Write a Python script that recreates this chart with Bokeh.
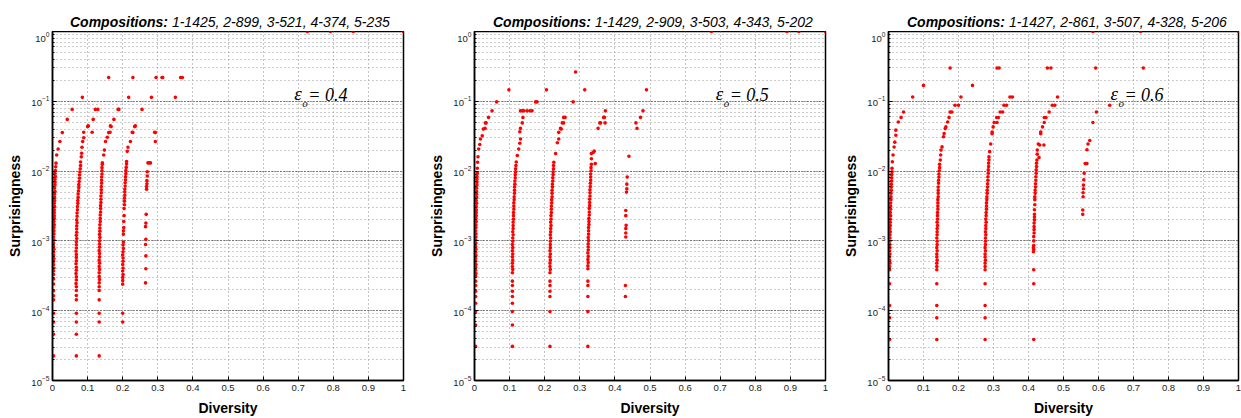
from bokeh.plotting import figure
from bokeh.layouts import row, column
from bokeh.models import Label, FixedTicker, LogTicker, Range1d, ColumnDataSource, Div
from bokeh.embed import file_html
from bokeh.resources import INLINE

# ---------------- data ----------------
X_TICKS = [0, 0.1, 0.2, 0.3, 0.4, 0.5, 0.6, 0.7, 0.8, 0.9, 1.0]
X_TICK_LABELS = ["0", "0.1", "0.2", "0.3", "0.4", "0.5", "0.6", "0.7", "0.8", "0.9", "1"]

TITLES = ["1-1425, 2-899, 3-521, 4-374, 5-235",
          "1-1429, 2-909, 3-503, 4-343, 5-202",
          "1-1427, 2-861, 3-507, 4-328, 5-206"]
EPS = ["0.4", "0.5", "0.6"]

# panel 1 (eps = 0.4): (diversity, surprisingness)
P1_C0 = [(0.003,2.25e-5),(0.003,4.6e-5),(0.003,6.9e-5),(0.003,9.2e-5),(0.003,1.43e-4),(0.003,1.64e-4),(0.003,1.93e-4),(0.003,2.41e-4),(0.003,2.84e-4),
         (0.003,3.3e-4),(0.003,3.7e-4),(0.004,4.1e-4),(0.003,4.6e-4),(0.003,5.1e-4),(0.004,5.6e-4),(0.003,6.2e-4),(0.003,6.9e-4),(0.004,7.6e-4),(0.003,8.4e-4),
         (0.003,9.3e-4),(0.004,1.03e-3),(0.003,1.14e-3),(0.004,1.26e-3),(0.004,1.4e-3),(0.004,1.55e-3),(0.005,1.7e-3),(0.004,1.9e-3),(0.005,2.1e-3),(0.005,2.3e-3),
         (0.005,2.55e-3),(0.005,2.8e-3),(0.006,3.1e-3),(0.005,3.45e-3),(0.006,3.8e-3),(0.006,4.2e-3),(0.006,4.65e-3),(0.007,5.1e-3),(0.006,5.7e-3),(0.007,6.3e-3),
         (0.007,6.9e-3),(0.007,7.6e-3),(0.008,8.4e-3),(0.007,9.3e-3),(0.008,1.02e-2),
         (0.009,1.15e-2),(0.010,1.3e-2),(0.012,1.7e-2),(0.016,2.07e-2),(0.021,2.65e-2),(0.028,3.56e-2),(0.042,5.5e-2),(0.056,7.66e-2),(0.085,1.14e-1)]
P1_C1 = [(0.068,2.25e-5),(0.068,4.6e-5),(0.068,6.9e-5),(0.068,9.2e-5),(0.068,1.43e-4),(0.068,1.65e-4),
         (0.068,1.95e-4),(0.068,2.2e-4),(0.067,2.45e-4),(0.068,2.75e-4),(0.068,3.05e-4),(0.067,3.4e-4),(0.068,3.8e-4),(0.068,4.2e-4),(0.067,4.7e-4),(0.068,5.2e-4),
         (0.068,5.8e-4),(0.068,6.4e-4),(0.067,7.1e-4),(0.068,7.9e-4),(0.068,8.8e-4),(0.068,9.7e-4),(0.069,1.08e-3),(0.068,1.2e-3),(0.069,1.33e-3),(0.069,1.48e-3),
         (0.069,1.64e-3),(0.070,1.82e-3),(0.069,2.0e-3),(0.070,2.25e-3),(0.070,2.5e-3),(0.071,2.8e-3),(0.071,3.1e-3),(0.072,3.45e-3),(0.072,3.8e-3),(0.073,4.2e-3),
         (0.073,4.7e-3),(0.074,5.2e-3),(0.075,5.8e-3),(0.075,6.4e-3),(0.076,7.1e-3),(0.077,7.9e-3),(0.077,8.8e-3),(0.078,9.7e-3),(0.079,1.08e-2),(0.080,1.2e-2),
         (0.080,1.35e-2),(0.082,1.6e-2),(0.083,1.8e-2),(0.084,2.2e-2),(0.086,2.65e-2),(0.089,3.0e-2),(0.089,3.6e-2),(0.100,4.34e-2),(0.102,4.44e-2),(0.113,3.6e-2),
         (0.116,5.5e-2),(0.122,7.66e-2),(0.129,7.66e-2),(0.160,2.19e-1)]
P1_C2 = [(0.133,2.25e-5),(0.133,6.9e-5),(0.133,9.2e-5),(0.133,1.43e-4),
         (0.133,1.95e-4),(0.133,2.2e-4),(0.133,2.5e-4),(0.134,2.8e-4),(0.133,3.1e-4),(0.133,3.5e-4),(0.134,3.9e-4),(0.133,4.3e-4),(0.134,4.8e-4),(0.133,5.3e-4),
         (0.134,5.9e-4),(0.134,6.6e-4),(0.133,7.3e-4),(0.134,8.1e-4),(0.134,9.0e-4),(0.134,1.0e-3),(0.135,1.12e-3),(0.134,1.24e-3),(0.135,1.38e-3),(0.135,1.53e-3),
         (0.135,1.7e-3),(0.136,1.9e-3),(0.136,2.1e-3),(0.136,2.35e-3),(0.137,2.6e-3),(0.137,2.9e-3),(0.137,3.2e-3),(0.138,3.55e-3),(0.138,3.95e-3),(0.138,4.4e-3),
         (0.139,4.9e-3),(0.139,5.4e-3),(0.139,6.0e-3),(0.140,6.7e-3),(0.140,7.4e-3),(0.140,8.2e-3),(0.141,9.1e-3),(0.141,1.01e-2),(0.141,1.12e-2),(0.142,1.25e-2),
         (0.142,1.32e-2),(0.146,1.7e-2),(0.148,2.0e-2),(0.151,2.65e-2),(0.156,3.05e-2),(0.160,3.56e-2),(0.164,3.6e-2),(0.165,4.44e-2),(0.167,4.34e-2),(0.175,5.5e-2),
         (0.187,7.66e-2),(0.189,7.66e-2),(0.217,1.14e-1),(0.229,2.19e-1)]
P1_C3 = [(0.200,6.9e-5),(0.200,9.2e-5),
         (0.200,2.4e-4),(0.200,2.7e-4),(0.200,3.0e-4),(0.201,3.3e-4),(0.200,3.7e-4),(0.201,4.1e-4),(0.200,4.6e-4),(0.201,5.1e-4),(0.201,5.7e-4),(0.200,6.3e-4),
         (0.201,7.0e-4),(0.202,7.8e-4),(0.201,8.7e-4),(0.202,9.6e-4),(0.202,1.25e-3),(0.202,1.4e-3),(0.203,1.55e-3),(0.203,1.9e-3),(0.204,2.3e-3),(0.204,2.9e-3),
         (0.205,3.3e-3),(0.205,3.7e-3),(0.205,4.1e-3),(0.206,4.5e-3),(0.206,5.0e-3),(0.206,5.5e-3),(0.207,6.1e-3),(0.207,6.8e-3),(0.208,7.5e-3),(0.208,8.3e-3),
         (0.209,9.2e-3),(0.209,1.02e-2),(0.210,1.13e-2),(0.211,1.26e-2),(0.211,1.37e-2),
         (0.213,1.92e-2),(0.215,2.2e-2),(0.222,2.65e-2),(0.227,3.6e-2),(0.229,3.56e-2),(0.234,4.34e-2),(0.236,4.44e-2),(0.255,7.66e-2),(0.282,1.14e-1),
         (0.295,2.19e-1),(0.312,2.19e-1),(0.314,2.19e-1)]
P1_C4 = [(0.265,2.5e-4),(0.266,4.0e-4),(0.266,6.1e-4),(0.265,8.9e-4),(0.266,1.05e-3),(0.265,1.6e-3),(0.266,1.8e-3),(0.267,2.4e-3),(0.268,5.5e-3),(0.268,6.0e-3),
         (0.269,6.6e-3),(0.269,7.3e-3),(0.270,8.5e-3),(0.270,9.8e-3),(0.272,1.31e-2),(0.276,1.31e-2),(0.279,1.31e-2),(0.291,3.6e-2),(0.293,2.65e-2),(0.293,3.56e-2),
         (0.350,1.14e-1),(0.365,2.19e-1),(0.370,2.19e-1)]
P1_TOP = [(0.726,1.0),(0.792,1.0),(0.857,1.0),(1.0,1.0)]

# panel 2 (eps = 0.5)
P2_C0 = [(0.003,3.08e-5),(0.003,6.25e-5),(0.003,9.7e-5),(0.003,1.28e-4),(0.003,1.6e-4),(0.003,1.9e-4),(0.003,2.3e-4),(0.003,2.65e-4),
         (0.003,3.1e-4),(0.004,3.4e-4),(0.003,3.8e-4),(0.003,4.2e-4),(0.004,4.6e-4),(0.003,5.1e-4),(0.003,5.6e-4),(0.004,6.2e-4),(0.003,6.9e-4),(0.004,7.6e-4),
         (0.003,8.4e-4),(0.004,9.3e-4),(0.003,1.03e-3),(0.004,1.14e-3),(0.004,1.26e-3),(0.003,1.4e-3),(0.004,1.55e-3),(0.004,1.7e-3),(0.005,1.9e-3),(0.004,2.1e-3),
         (0.005,2.3e-3),(0.005,2.55e-3),(0.005,2.8e-3),(0.005,3.1e-3),(0.006,3.45e-3),(0.005,3.8e-3),(0.006,4.2e-3),(0.006,4.65e-3),(0.006,5.1e-3),(0.006,5.7e-3),
         (0.007,6.3e-3),(0.007,6.9e-3),(0.007,7.6e-3),(0.007,8.4e-3),(0.008,9.3e-3),
         (0.008,1.1e-2),(0.009,1.34e-2),(0.010,1.6e-2),(0.012,2.07e-2),(0.015,2.4e-2),(0.017,2.88e-2),(0.022,3.2e-2),(0.025,4.0e-2),(0.030,4.1e-2),(0.031,4.9e-2),
         (0.033,4.9e-2),(0.040,5.88e-2),(0.050,7.3e-2),(0.063,9.8e-2),(0.098,1.46e-1)]
P2_C1 = [(0.108,3.08e-5),(0.108,6.25e-5),(0.108,9.7e-5),(0.108,1.28e-4),(0.108,1.6e-4),(0.108,1.9e-4),(0.108,2.3e-4),(0.108,2.65e-4),
         (0.108,3.5e-4),(0.109,3.9e-4),(0.108,4.3e-4),(0.108,4.8e-4),(0.109,5.3e-4),(0.108,5.9e-4),(0.109,6.5e-4),(0.108,7.2e-4),(0.109,8.0e-4),(0.108,8.9e-4),
         (0.109,9.9e-4),(0.109,1.1e-3),(0.110,1.22e-3),(0.109,1.35e-3),(0.110,1.5e-3),(0.110,1.66e-3),(0.110,1.85e-3),(0.111,2.05e-3),(0.111,2.3e-3),(0.111,2.55e-3),
         (0.112,2.85e-3),(0.112,3.15e-3),(0.112,3.5e-3),(0.113,3.9e-3),(0.113,4.3e-3),(0.114,4.8e-3),(0.114,5.3e-3),(0.114,5.9e-3),(0.115,6.5e-3),(0.115,7.2e-3),
         (0.116,8.0e-3),(0.116,8.9e-3),(0.117,9.8e-3),(0.117,1.08e-2),(0.118,1.2e-2),(0.119,1.35e-2),
         (0.122,1.67e-2),(0.126,2.07e-2),(0.129,2.5e-2),(0.131,2.88e-2),(0.129,3.66e-2),(0.131,4.1e-2),(0.136,4.9e-2),(0.138,5.88e-2),(0.131,7.3e-2),(0.136,7.3e-2),
         (0.141,7.3e-2),(0.150,7.3e-2),(0.158,7.3e-2),(0.164,7.3e-2),(0.174,9.8e-2),(0.178,9.8e-2),(0.205,1.46e-1)]
P2_C2 = [(0.215,3.08e-5),(0.215,9.7e-5),(0.215,1.6e-4),(0.215,1.9e-4),(0.215,2.3e-4),(0.215,2.65e-4),
         (0.215,3.5e-4),(0.216,3.9e-4),(0.215,4.3e-4),(0.215,4.8e-4),(0.216,5.3e-4),(0.215,5.9e-4),(0.216,6.5e-4),(0.215,7.2e-4),(0.216,8.0e-4),(0.216,8.9e-4),
         (0.216,9.9e-4),(0.217,1.1e-3),(0.216,1.22e-3),(0.217,1.35e-3),(0.217,1.5e-3),(0.218,1.66e-3),(0.217,1.85e-3),(0.218,2.05e-3),(0.218,2.3e-3),(0.219,2.55e-3),
         (0.219,2.85e-3),(0.219,3.15e-3),(0.220,3.5e-3),(0.220,3.9e-3),(0.221,4.3e-3),(0.221,4.8e-3),(0.221,5.3e-3),(0.222,5.9e-3),(0.222,6.5e-3),(0.223,7.2e-3),
         (0.223,8.0e-3),(0.224,8.9e-3),(0.224,9.8e-3),(0.225,1.08e-2),(0.225,1.2e-2),(0.226,1.34e-2),
         (0.231,1.78e-2),(0.236,2.55e-2),(0.240,2.88e-2),(0.240,3.59e-2),(0.245,4.1e-2),(0.247,4.0e-2),(0.250,4.9e-2),(0.254,4.9e-2),(0.254,5.88e-2),(0.258,5.88e-2),
         (0.281,9.8e-2),(0.288,2.63e-1),(0.314,1.46e-1)]
P2_C3 = [(0.323,3.08e-5),(0.323,9.7e-5),(0.323,1.6e-4),(0.323,2.3e-4),(0.323,2.65e-4),
         (0.323,4.0e-4),(0.323,4.4e-4),(0.324,4.9e-4),(0.323,5.4e-4),(0.324,6.0e-4),(0.323,6.7e-4),(0.324,7.4e-4),(0.324,8.2e-4),(0.324,9.1e-4),(0.325,1.01e-3),
         (0.324,1.12e-3),(0.325,1.25e-3),(0.325,1.4e-3),(0.325,1.55e-3),(0.326,1.72e-3),(0.326,1.9e-3),(0.326,2.1e-3),(0.327,2.35e-3),(0.327,2.6e-3),(0.327,2.9e-3),
         (0.328,3.2e-3),(0.328,3.55e-3),(0.328,3.95e-3),(0.329,4.4e-3),(0.329,4.9e-3),(0.329,5.4e-3),(0.330,6.0e-3),(0.330,6.7e-3),(0.331,7.4e-3),(0.331,8.2e-3),
         (0.331,9.1e-3),(0.332,1.01e-2),(0.332,1.12e-2),(0.333,1.25e-2),
         (0.333,1.5e-2),(0.333,1.78e-2),(0.338,1.85e-2),(0.344,1.28e-2),(0.341,1.93e-2),(0.352,4.1e-2),(0.357,4.9e-2),(0.359,4.9e-2),(0.372,4.9e-2),(0.368,5.88e-2),
         (0.370,5.88e-2),(0.373,7.3e-2)]
P2_C4 = [(0.430,2.3e-4),(0.430,1.6e-4),(0.431,1.14e-3),(0.431,1.3e-3),(0.431,1.5e-3),(0.432,1.67e-3),(0.431,2.3e-3),(0.431,2.73e-3),(0.433,5.0e-3),(0.434,5.6e-3),
         (0.434,6.5e-3),(0.435,8.2e-3),(0.440,1.63e-2),(0.460,4.9e-2),(0.463,4.1e-2),(0.473,5.88e-2),(0.480,7.3e-2),(0.490,1.46e-1)]
P2_TOP = [(0.675,1.0),(0.890,1.0),(0.924,1.0),(1.0,1.0)]

# panel 3 (eps = 0.6)
P3_C0 = [(0.003,3.86e-5),(0.003,7.9e-5),(0.003,1.19e-4),(0.003,2.43e-4),(0.003,3.86e-4),
         (0.003,4.3e-4),(0.004,4.8e-4),(0.003,5.3e-4),(0.003,5.9e-4),(0.004,6.5e-4),(0.003,7.2e-4),(0.004,8.0e-4),(0.004,8.9e-4),(0.003,9.9e-4),(0.004,1.1e-3),
         (0.004,1.22e-3),(0.005,1.35e-3),(0.004,1.5e-3),(0.005,1.66e-3),(0.005,1.85e-3),(0.005,2.05e-3),(0.006,2.3e-3),(0.005,2.55e-3),(0.006,2.85e-3),(0.006,3.15e-3),
         (0.006,3.5e-3),(0.007,3.9e-3),(0.007,4.3e-3),(0.007,4.8e-3),(0.008,5.3e-3),(0.008,5.9e-3),(0.008,6.5e-3),(0.009,7.2e-3),(0.009,8.0e-3),(0.009,8.9e-3),
         (0.010,9.8e-3),
         (0.010,1.1e-2),(0.011,1.36e-2),(0.013,1.7e-2),(0.016,2.22e-2),(0.018,2.6e-2),(0.021,3.27e-2),(0.021,3.86e-2),(0.028,5.06e-2),(0.036,5.88e-2),(0.043,7.03e-2),
         (0.069,1.15e-1),(0.100,1.69e-1)]
P3_C1 = [(0.138,3.86e-5),(0.138,7.9e-5),(0.138,1.19e-4),(0.138,2.43e-4),(0.138,3.86e-4),
         (0.138,4.3e-4),(0.138,4.8e-4),(0.139,5.3e-4),(0.138,5.9e-4),(0.138,6.5e-4),(0.139,7.2e-4),(0.138,8.0e-4),(0.139,8.9e-4),(0.139,9.9e-4),(0.138,1.1e-3),
         (0.139,1.22e-3),(0.139,1.35e-3),(0.139,1.5e-3),(0.140,1.66e-3),(0.139,1.85e-3),(0.140,2.05e-3),(0.140,2.3e-3),(0.140,2.55e-3),(0.141,2.85e-3),(0.141,3.15e-3),
         (0.141,3.5e-3),(0.141,3.9e-3),(0.142,4.3e-3),(0.142,4.8e-3),(0.142,5.3e-3),(0.142,5.9e-3),(0.143,6.7e-3),(0.143,7.4e-3),(0.144,8.2e-3),(0.144,9.1e-3),
         (0.145,1.01e-2),(0.146,1.12e-2),(0.146,1.25e-2),(0.148,1.44e-2),(0.149,1.7e-2),
         (0.150,2.0e-2),(0.153,2.22e-2),(0.157,3.1e-2),(0.159,3.46e-2),(0.162,4.06e-2),(0.164,4.3e-2),(0.169,5.06e-2),(0.173,5.88e-2),(0.176,7.0e-2),(0.181,7.03e-2),
         (0.190,8.77e-2),(0.200,8.77e-2),(0.207,1.15e-1),(0.240,1.69e-1),(0.176,3.0e-1)]
P3_C2 = [(0.276,3.86e-5),(0.276,7.9e-5),(0.276,1.19e-4),(0.276,2.43e-4),(0.276,3.86e-4),
         (0.276,4.3e-4),(0.276,4.8e-4),(0.277,5.3e-4),(0.276,5.9e-4),(0.276,6.5e-4),(0.277,7.2e-4),(0.276,8.0e-4),(0.277,8.9e-4),(0.277,9.9e-4),(0.277,1.1e-3),
         (0.278,1.22e-3),(0.277,1.35e-3),(0.278,1.5e-3),(0.278,1.66e-3),(0.279,1.85e-3),(0.278,2.05e-3),(0.279,2.3e-3),(0.279,2.55e-3),(0.280,2.85e-3),(0.280,3.15e-3),
         (0.280,3.5e-3),(0.281,3.9e-3),(0.281,4.3e-3),(0.282,4.8e-3),(0.282,5.3e-3),(0.283,5.9e-3),(0.283,6.6e-3),(0.284,7.4e-3),(0.284,8.3e-3),(0.285,9.3e-3),
         (0.285,1.04e-2),(0.286,1.16e-2),(0.286,1.3e-2),(0.287,1.45e-2),(0.287,1.6e-2),(0.289,1.9e-2),
         (0.292,2.44e-2),(0.296,3.44e-2),(0.296,3.64e-2),(0.299,4.3e-2),(0.302,4.97e-2),(0.310,4.97e-2),(0.309,5.85e-2),(0.314,5.85e-2),(0.319,7.03e-2),(0.326,7.03e-2),
         (0.330,8.77e-2),(0.337,8.77e-2),(0.347,1.15e-1),(0.354,1.15e-1),(0.310,3.0e-1),(0.316,3.0e-1)]
P3_C3 = [(0.415,3.86e-5),(0.415,2.43e-4),(0.415,3.86e-4),
         (0.414,7.0e-4),(0.415,7.5e-4),(0.414,8.0e-4),(0.415,8.6e-4),(0.415,1.0e-3),(0.415,1.15e-3),(0.416,1.3e-3),(0.416,1.45e-3),(0.416,1.6e-3),(0.416,1.8e-3),
         (0.417,2.0e-3),(0.417,2.2e-3),(0.417,2.4e-3),(0.417,2.8e-3),(0.418,3.3e-3),(0.418,3.9e-3),(0.418,4.3e-3),(0.419,4.8e-3),(0.419,5.3e-3),(0.420,5.9e-3),
         (0.420,6.6e-3),(0.421,7.4e-3),(0.421,8.3e-3),(0.422,9.3e-3),(0.422,1.04e-2),(0.423,1.16e-2),(0.423,1.3e-2),(0.424,1.44e-2),(0.430,1.57e-2),(0.425,1.75e-2),
         (0.425,2.0e-2),(0.432,2.36e-2),(0.444,2.36e-2),
         (0.428,2.44e-2),(0.435,3.44e-2),(0.435,3.64e-2),(0.440,4.3e-2),(0.445,4.97e-2),(0.445,5.85e-2),(0.450,5.85e-2),(0.459,7.03e-2),(0.468,8.77e-2),(0.475,8.77e-2),
         (0.483,1.15e-1),(0.454,3.0e-1),(0.464,3.0e-1)]
P3_C4 = [(0.555,2.4e-3),(0.555,2.77e-3),(0.556,4.3e-3),(0.556,4.9e-3),(0.557,5.6e-3),(0.557,6.3e-3),(0.558,7.5e-3),(0.559,9.3e-3),(0.562,1.28e-2),(0.567,1.28e-2),
         (0.567,2.02e-2),(0.570,2.44e-2),(0.575,2.75e-2),(0.584,4.97e-2),(0.594,7.03e-2),(0.632,8.77e-2),(0.592,3.0e-1)]
P3_TOP = [(0.584,1.0),(0.720,1.0),(1.0,1.0),(0.728,3.0e-1)]

PANELS = [P1_C0 + P1_C1 + P1_C2 + P1_C3 + P1_C4 + P1_TOP,
          P2_C0 + P2_C1 + P2_C2 + P2_C3 + P2_C4 + P2_TOP,
          P3_C0 + P3_C1 + P3_C2 + P3_C3 + P3_C4 + P3_TOP]

# ---------------- layout ----------------
# (figure width, left border, right border, title left px, eps x)
GEOM = [(420, 52, 17, 70, 0.689),
        (420, 54, 15, 73, 0.687),
        (401, 48, 3, 67, 0.634)]
TOP_H = 31      # space above the plotting frame, holding the title

SANS = "Liberation Sans"
SERIF = "Liberation Serif"


def make_title(i):
    w, bl, br, tleft, ex = GEOM[i]
    html = ('<div style="position:absolute; left:%dpx; top:15px; white-space:nowrap; '
            'font-family:\'Liberation Sans\', Arial, sans-serif; font-size:14px; '
            'line-height:14px; color:#000;">'
            '<b><i>Compositions:</i></b> <i>%s</i></div>') % (tleft, TITLES[i])
    return Div(text=html, width=w, height=TOP_H, margin=(0, 0, 0, 0),
               styles={"position": "relative", "overflow": "visible"})


def make_panel(i):
    w, bl, br, tleft, ex = GEOM[i]
    pts = PANELS[i]
    src = ColumnDataSource(dict(x=[p[0] for p in pts], y=[p[1] for p in pts]))
    p = figure(width=w, height=418 - TOP_H, y_axis_type="log",
               x_range=Range1d(0, 1), y_range=Range1d(1e-5, 1),
               output_backend="svg", toolbar_location=None,
               min_border_left=bl, min_border_right=br,
               min_border_top=0, min_border_bottom=36, margin=(0, 0, 0, 0))
    p.background_fill_color = "white"
    p.border_fill_color = "white"
    p.outline_line_color = "black"
    p.outline_line_width = 1.5

    # grid (MATLAB-like dotted)
    p.xgrid.ticker = FixedTicker(ticks=X_TICKS)
    p.xgrid.grid_line_color = "#8a8a8a"
    p.xgrid.grid_line_dash = "1 3"
    p.xgrid.grid_line_width = 1
    p.ygrid.grid_line_color = "#333333"
    p.ygrid.grid_line_dash = "1 2"
    p.ygrid.grid_line_width = 1
    p.ygrid.minor_grid_line_color = "#9a9a9a"
    p.ygrid.minor_grid_line_dash = "1 3"
    p.ygrid.minor_grid_line_width = 1

    p.scatter("x", "y", source=src, marker="circle", size=3.6,
              fill_color="#ff0000", line_color=None)

    # axes
    xa = p.xaxis[0]
    xa.ticker = FixedTicker(ticks=X_TICKS)
    xa.major_label_overrides = {t: l for t, l in zip(X_TICKS, X_TICK_LABELS)}
    xa.axis_label = "Diversity"
    ya = p.yaxis[0]
    ya.ticker = LogTicker(num_minor_ticks=10, desired_num_ticks=6)
    ya.axis_label = "Surprisingness"
    for ax in (xa, ya):
        ax.axis_line_color = "black"
        ax.axis_line_width = 1.5
        ax.major_tick_in = 4
        ax.major_tick_out = 0
        ax.minor_tick_in = 2
        ax.minor_tick_out = 0
        ax.major_tick_line_color = "black"
        ax.minor_tick_line_color = "black"
        ax.major_label_text_font = SANS
        ax.major_label_text_color = "#222222"
        ax.axis_label_text_font = SANS
        ax.axis_label_text_font_style = "bold"
        ax.axis_label_text_font_size = "14px"
        ax.axis_label_text_color = "black"
    xa.minor_tick_line_color = None
    xa.major_label_text_font_size = "9.5px"
    xa.major_label_standoff = 4
    xa.axis_label_standoff = 6
    ya.major_label_text_font_size = "9.5px"
    ya.major_label_standoff = 3
    ya.axis_label_standoff = 5

    # epsilon annotation
    p.add_layout(Label(x=ex, y=0.1, y_offset=-3, text="\u03b5", text_baseline="bottom",
                       text_font=SERIF, text_font_style="italic",
                       text_font_size="19px", text_color="black"))
    p.add_layout(Label(x=ex, y=0.1, x_offset=8, y_offset=-8, text="o",
                       text_baseline="bottom",
                       text_font=SERIF, text_font_style="italic",
                       text_font_size="11px", text_color="black"))
    p.add_layout(Label(x=ex, y=0.1, x_offset=14, y_offset=-4, text="= " + EPS[i],
                       text_baseline="bottom",
                       text_font=SERIF, text_font_style="italic",
                       text_font_size="18px", text_color="black"))
    return p


cols = [column(make_title(i), make_panel(i), spacing=0, margin=(0, 0, 0, 0)) for i in range(3)]
layout = row(*cols, spacing=0, margin=(0, 0, 0, 0))
open("out.html", "w").write(file_html(layout, INLINE))
